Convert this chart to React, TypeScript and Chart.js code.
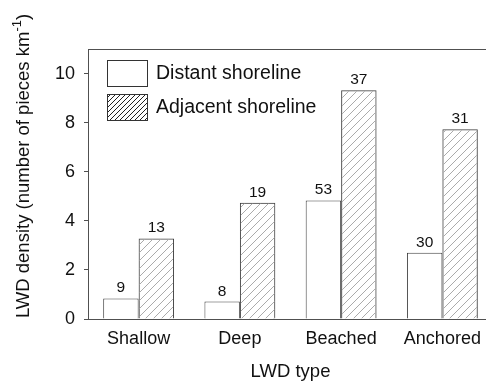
import { useEffect, useRef } from "react";
import { Chart, registerables } from "chart.js";

Chart.register(...registerables);

// LWD density per shoreline class, with piece counts shown above the bars
const categories = ["Shallow", "Deep", "Beached", "Anchored"];
const distantDensity = [0.84, 0.71, 4.83, 2.7];
const adjacentDensity = [3.28, 4.74, 9.32, 7.73];
const distantPieces = [9, 8, 53, 30];
const adjacentPieces = [13, 19, 37, 31];
const yTicks = [0, 2, 4, 6, 8, 10];
const seriesNames = ["Distant shoreline", "Adjacent shoreline"];
const xTitle = "LWD type";
const yTitleMain = "LWD density (number of pieces km";
const yTitleSup = "-1";
const yTitleEnd = ")";

const FONT = "'Liberation Sans', Arial, Helvetica, sans-serif";
const AXIS = "#505050";
const BAR_EDGE = "#404040";
const TEXT = "#111111";

function makeHatch(size: number, color: string, width: number) {
  const c = document.createElement("canvas");
  c.width = size;
  c.height = size;
  const g = c.getContext("2d")!;
  g.strokeStyle = color;
  g.lineWidth = width;
  g.beginPath();
  g.moveTo(0, size);
  g.lineTo(size, 0);
  g.moveTo(-1, 1);
  g.lineTo(1, -1);
  g.moveTo(size - 1, size + 1);
  g.lineTo(size + 1, size - 1);
  g.stroke();
  return g.createPattern(c, "repeat")!;
}

export default function App() {
  const ref = useRef<HTMLCanvasElement | null>(null);

  useEffect(() => {
    const canvas = ref.current;
    if (!canvas) return;
    const ctx0 = canvas.getContext("2d")!;
    const barHatch = makeHatch(8, "#ababab", 1);
    const keyHatch = makeHatch(5, "#222222", 1);

    const decor = {
      id: "decor",
      afterDatasetsDraw(chart: any) {
        const ctx = chart.ctx as CanvasRenderingContext2D;
        const { left, right, top, bottom } = chart.chartArea;
        ctx.save();

        // frame top and right edges
        ctx.strokeStyle = AXIS;
        ctx.lineWidth = 1;
        ctx.beginPath();
        ctx.moveTo(left, Math.round(top) + 0.5);
        ctx.lineTo(right, Math.round(top) + 0.5);
        ctx.lineTo(right, bottom);
        ctx.stroke();

        // piece counts above bars
        ctx.fillStyle = TEXT;
        ctx.font = `15.5px ${FONT}`;
        ctx.textAlign = "center";
        ctx.textBaseline = "alphabetic";
        const counts = [distantPieces, adjacentPieces];
        counts.forEach((arr, di) => {
          const meta = chart.getDatasetMeta(di);
          meta.data.forEach((el: any, i: number) => {
            ctx.fillText(String(arr[i]), el.x, el.y - 6);
          });
        });

        // legend
        const kx = 107;
        const kw = 40;
        const kh = 26;
        const rows = [60, 94];
        ctx.font = `19.5px ${FONT}`;
        ctx.textAlign = "left";
        ctx.textBaseline = "middle";
        rows.forEach((ky, i) => {
          ctx.fillStyle = i === 0 ? "#ffffff" : keyHatch;
          ctx.fillRect(kx, ky, kw, kh);
          ctx.strokeStyle = "#333333";
          ctx.strokeRect(kx + 0.5, ky + 0.5, kw, kh);
          ctx.fillStyle = TEXT;
          ctx.fillText(seriesNames[i], kx + kw + 9, ky + kh / 2 + 1);
        });

        // x axis title
        ctx.font = `18.5px ${FONT}`;
        ctx.textAlign = "center";
        ctx.textBaseline = "alphabetic";
        ctx.fillText(xTitle, (left + right) / 2, 377);

        // y axis title with superscript
        const mainFont = `18.5px ${FONT}`;
        const supFont = `13px ${FONT}`;
        ctx.font = mainFont;
        const wMain = ctx.measureText(yTitleMain).width;
        const wEnd = ctx.measureText(yTitleEnd).width;
        ctx.font = supFont;
        const wSup = ctx.measureText(yTitleSup).width;
        const total = wMain + wSup + wEnd;
        ctx.translate(29, 166);
        ctx.rotate(-Math.PI / 2);
        ctx.textAlign = "left";
        let x = -total / 2;
        ctx.font = mainFont;
        ctx.fillText(yTitleMain, x, 0);
        x += wMain;
        ctx.font = supFont;
        ctx.fillText(yTitleSup, x, -8);
        x += wSup;
        ctx.font = mainFont;
        ctx.fillText(yTitleEnd, x, 0);

        ctx.restore();
      },
    };

    const chart = new Chart(ctx0, {
      type: "bar",
      data: {
        labels: categories,
        datasets: [
          {
            label: seriesNames[0],
            data: distantDensity,
            backgroundColor: "#ffffff",
            borderColor: BAR_EDGE,
            borderWidth: 1,
          },
          {
            label: seriesNames[1],
            data: adjacentDensity,
            backgroundColor: barHatch,
            borderColor: BAR_EDGE,
            borderWidth: 1,
          },
        ],
      },
      options: {
        responsive: false,
        animation: false,
        events: [],
        layout: { padding: { top: 49, right: 0, left: 0, bottom: 0 } },
        datasets: {
          bar: { categoryPercentage: 0.7, barPercentage: 1.0 },
        },
        plugins: {
          legend: { display: false },
          tooltip: { enabled: false },
          title: { display: false },
        },
        scales: {
          x: {
            grid: { display: false, drawTicks: false },
            border: { display: true, color: AXIS, width: 1 },
            ticks: {
              color: TEXT,
              font: { family: FONT, size: 18 },
              padding: 9,
              maxRotation: 0,
            },
            afterFit(scale: any) {
              scale.height = 62;
            },
          },
          y: {
            min: 0,
            max: 11,
            grid: {
              drawOnChartArea: false,
              drawTicks: true,
              tickLength: 4,
              tickColor: AXIS,
            },
            border: { display: true, color: AXIS, width: 1 },
            ticks: {
              color: TEXT,
              font: { family: FONT, size: 18 },
              padding: 9,
            },
            afterBuildTicks(scale: any) {
              scale.ticks = yTicks.map((v) => ({ value: v }));
            },
            afterFit(scale: any) {
              scale.width = 88;
            },
          },
        },
      },
      plugins: [decor],
    } as any);

    return () => chart.destroy();
  }, []);

  return (
    <div
      style={{
        position: "fixed",
        left: 0,
        top: 0,
        width: 486,
        height: 381,
        overflow: "hidden",
        background: "#ffffff",
      }}
    >
      <canvas
        ref={ref}
        width={493}
        height={381}
        style={{ display: "block", width: 493, height: 381 }}
      />
    </div>
  );
}
